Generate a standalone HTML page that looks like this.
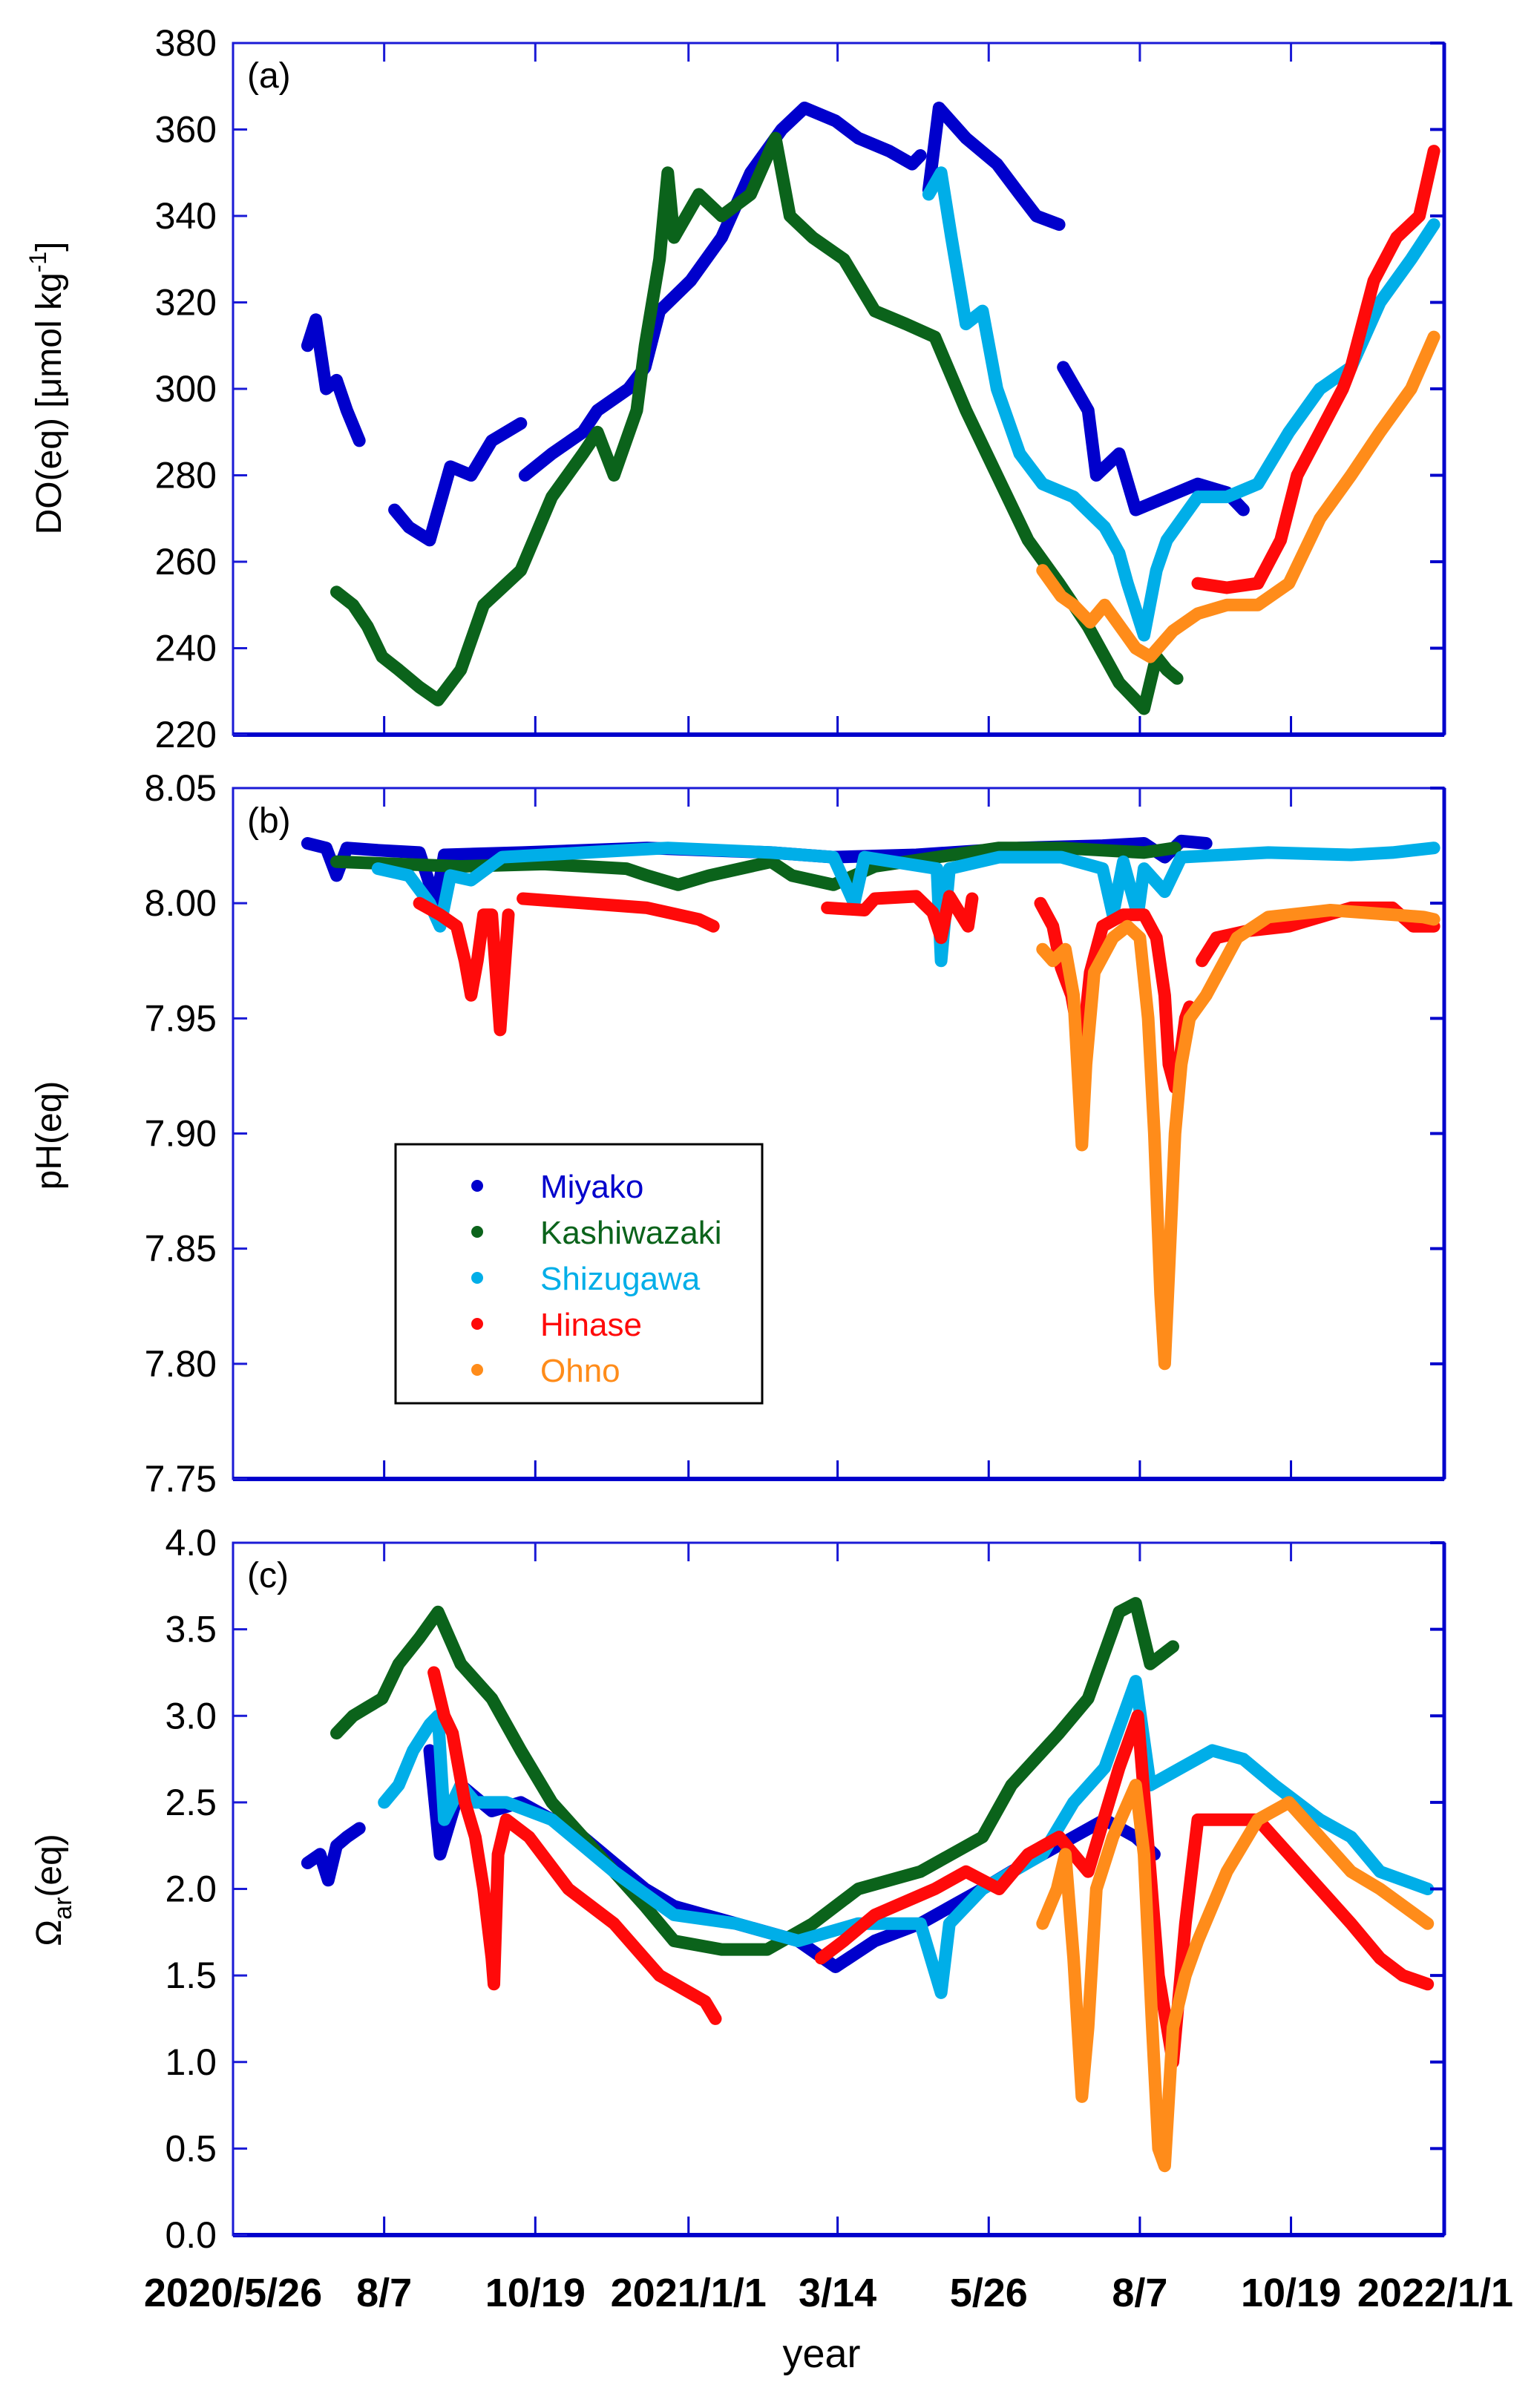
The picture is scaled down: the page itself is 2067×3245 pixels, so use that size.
<!DOCTYPE html>
<html><head><meta charset="utf-8"><title>DO, pH and Omega time series</title>
<style>
html,body{margin:0;padding:0;background:#fff;}
svg{display:block;}
text{font-family:"Liberation Sans Narrow","Liberation Sans",sans-serif;fill:#000;}
</style></head>
<body>
<svg id="chart" width="2067" height="3245" viewBox="0 0 2067 3245" xmlns="http://www.w3.org/2000/svg">
<g id="marks"></g>
<g id="axes"></g>
</svg>
<script>
// x = days since 2020/5/26
const xTickDays = [73,146,220,292,365,438,511];
const xTickLabels = ["2020/5/26","8/7","10/19","2021/1/1","3/14","5/26","8/7","10/19","2022/1/1"];
const xLabelDays = [0,73,146,220,292,365,438,511,585];
const seriesNames = ["Miyako","Kashiwazaki","Shizugawa","Hinase","Ohno"];
const seriesColors = ["#0000cc","#0b631b","#00aee8","#ff0a0a","#ff8c1a"];

const aTicks = [220,240,260,280,300,320,340,360,380];
const bTicks = [7.75,7.80,7.85,7.90,7.95,8.00,8.05];
const bTickLabels = ["7.75","7.80","7.85","7.90","7.95","8.00","8.05"];
const cTicks = [0,0.5,1,1.5,2,2.5,3,3.5,4];
const cTickLabels = ["0.0","0.5","1.0","1.5","2.0","2.5","3.0","3.5","4.0"];

// Panel (a) DO
const miyakoA_days = [36,40,45,50,55,61,null,78,85,95,105,115,125,139,null,141,154,169,176,191,199,206,221,236,250,265,276,291,302,317,328,332,null,336,341,354,369,380,388,399,null,401,413,417,428,436,451,466,480,488];
const miyakoA_vals = [310,316,300,302,295,288,null,272,268,265,282,280,288,292,null,280,285,290,295,300,305,318,325,335,350,360,365,362,358,355,352,354,null,346,365,358,352,345,340,338,null,305,295,280,285,272,275,278,276,272];
const kashA_days = [50,58,65,72,80,90,99,110,121,130,139,154,169,176,184,195,199,206,210,213,225,236,250,262,269,280,295,310,325,339,354,369,384,399,413,428,440,446,451,456];
const kashA_vals = [253,250,245,238,235,231,228,235,250,254,258,275,285,290,280,295,310,330,350,335,345,340,345,358,340,335,330,318,315,312,295,280,265,255,245,232,226,238,235,233];
const shizA_days = [336,342,347,354,362,369,380,391,406,421,428,432,440,446,451,466,480,495,510,525,540,554,569,580];
const shizA_vals = [345,350,335,315,318,300,285,278,275,268,262,255,243,258,265,275,275,278,290,300,305,320,330,338];
const hinaseA_days = [466,480,495,506,514,525,536,540,551,562,573,580];
const hinaseA_vals = [255,254,255,265,280,290,300,305,325,335,340,355];
const ohnoA_days = [391,400,406,414,421,430,436,443,454,466,480,495,510,525,540,554,569,580];
const ohnoA_vals = [258,252,250,246,250,244,240,238,244,248,250,250,255,270,280,290,300,312];

// Panel (b) pH
const miyakoB_days = [36,45,50,55,70,90,98,102,140,200,260,290,330,380,420,440,450,458,470];
const miyakoB_vals = [8.026,8.024,8.012,8.024,8.023,8.022,8.0,8.021,8.022,8.024,8.022,8.02,8.021,8.024,8.025,8.026,8.02,8.027,8.026];
const kashB_days = [50,80,110,150,190,200,215,230,260,270,290,310,340,370,400,420,440,455];
const kashB_vals = [8.018,8.017,8.016,8.017,8.015,8.012,8.008,8.012,8.018,8.012,8.008,8.016,8.02,8.024,8.024,8.023,8.022,8.024];
const shizB_days = [70,85,95,100,105,115,130,170,210,260,290,300,305,340,342,346,370,400,420,425,430,437,440,450,458,500,540,560,580];
const shizB_vals = [8.015,8.012,8.0,7.99,8.012,8.01,8.02,8.022,8.024,8.022,8.02,8.0,8.02,8.015,7.975,8.015,8.02,8.02,8.015,7.995,8.018,7.995,8.015,8.005,8.02,8.022,8.021,8.022,8.024];
const hinaseB_days = [90,100,108,112,115,118,121,125,127,129,131,133,null,140,170,200,225,232,null,287,305,310,330,338,342,346,355,357,null,390,396,400,405,410,414,420,430,440,446,450,452,455,457,460,462,null,468,475,490,510,540,560,570,580];
const hinaseB_vals = [8.0,7.995,7.99,7.975,7.96,7.975,7.995,7.995,7.97,7.945,7.97,7.995,null,8.002,8.0,7.998,7.993,7.99,null,7.998,7.997,8.002,8.003,7.996,7.985,8.003,7.99,8.002,null,8.0,7.99,7.972,7.96,7.935,7.97,7.99,7.995,7.995,7.985,7.96,7.93,7.92,7.93,7.95,7.955,null,7.975,7.985,7.988,7.99,7.998,7.998,7.99,7.99];
const ohnoB_days = [391,396,402,406,410,412,416,425,432,438,442,445,448,450,452,455,458,462,470,476,485,500,530,560,575,580];
const ohnoB_vals = [7.98,7.975,7.98,7.96,7.895,7.93,7.97,7.985,7.99,7.985,7.95,7.9,7.83,7.8,7.84,7.9,7.93,7.95,7.96,7.97,7.985,7.994,7.997,7.995,7.994,7.993];

// Panel (c) Omega_ar
const miyakoC_days = [36,42,46,50,55,61,null,95,100,110,125,139,154,169,184,199,213,228,243,258,273,291,310,332,347,362,376,391,406,421,436,445];
const miyakoC_vals = [2.15,2.2,2.05,2.25,2.3,2.35,null,2.8,2.2,2.6,2.45,2.5,2.4,2.3,2.15,2.0,1.9,1.85,1.8,1.75,1.7,1.55,1.7,1.8,1.9,2.0,2.1,2.2,2.3,2.4,2.3,2.2];
const kashC_days = [50,58,65,72,80,90,99,110,125,139,154,169,184,199,213,236,258,280,302,332,362,376,399,413,428,436,443,454];
const kashC_vals = [2.9,3.0,3.05,3.1,3.3,3.45,3.6,3.3,3.1,2.8,2.5,2.3,2.1,1.9,1.7,1.65,1.65,1.8,2.0,2.1,2.3,2.6,2.9,3.1,3.6,3.65,3.3,3.4];
const shizC_days = [73,80,87,95,99,102,110,117,132,154,184,213,243,273,302,332,342,346,362,391,406,421,436,443,458,473,488,503,525,540,554,577];
const shizC_vals = [2.5,2.6,2.8,2.95,3.0,2.4,2.6,2.5,2.5,2.4,2.1,1.85,1.8,1.7,1.8,1.8,1.4,1.8,2.0,2.2,2.5,2.7,3.2,2.6,2.7,2.8,2.75,2.6,2.4,2.3,2.1,2.0];
const hinaseC_days = [97,102,106,112,117,121,125,126,128,132,143,162,184,206,228,233,null,284,295,310,339,354,370,384,399,413,428,437,443,447,454,460,466,480,495,510,525,540,554,565,577];
const hinaseC_vals = [3.25,3.0,2.9,2.5,2.3,2.0,1.6,1.45,2.2,2.4,2.3,2.0,1.8,1.5,1.35,1.25,null,1.6,1.7,1.85,2.0,2.1,2.0,2.2,2.3,2.1,2.7,3.0,2.1,1.5,1.0,1.8,2.4,2.4,2.4,2.2,2.0,1.8,1.6,1.5,1.45];
const ohnoC_days = [391,398,402,406,410,413,417,425,436,440,444,447,450,454,460,466,480,495,510,525,540,554,577];
const ohnoC_vals = [1.8,2.0,2.2,1.6,0.8,1.2,2.0,2.3,2.6,2.2,1.2,0.5,0.4,1.2,1.5,1.7,2.1,2.4,2.5,2.3,2.1,2.0,1.8];

const NS = "http://www.w3.org/2000/svg";
const X0 = 314, X1 = 1946, DAYS = 585;
function xs(d){ return X0 + (X1 - X0) * d / DAYS; }
function mkY(top, bot, vmin, vmax){ return v => bot - (bot - top) * (v - vmin) / (vmax - vmin); }
const panels = [
  {key:"a", top:58, bot:990, ya:mkY(58,990,220,380), ticks:aTicks, labels:aTicks.map(String),
   data:[[miyakoA_days,miyakoA_vals],[kashA_days,kashA_vals],[shizA_days,shizA_vals],[hinaseA_days,hinaseA_vals],[ohnoA_days,ohnoA_vals]]},
  {key:"b", top:1062, bot:1993, ya:mkY(1062,1993,7.75,8.05), ticks:bTicks, labels:bTickLabels,
   data:[[miyakoB_days,miyakoB_vals],[kashB_days,kashB_vals],[shizB_days,shizB_vals],[hinaseB_days,hinaseB_vals],[ohnoB_days,ohnoB_vals]]},
  {key:"c", top:2079, bot:3012, ya:mkY(2079,3012,0,4), ticks:cTicks, labels:cTickLabels,
   data:[[miyakoC_days,miyakoC_vals],[kashC_days,kashC_vals],[shizC_days,shizC_vals],[hinaseC_days,hinaseC_vals],[ohnoC_days,ohnoC_vals]]}
];
const marks = document.getElementById("marks");
const axes = document.getElementById("axes");
function el(tag, attrs, parent){
  const e = document.createElementNS(NS, tag);
  for (const k in attrs) e.setAttribute(k, attrs[k]);
  parent.appendChild(e); return e;
}
panels.forEach(p => {
  p.data.forEach((s, i) => {
    const days = s[0], vals = s[1];
    let segs = [], cur = [];
    for (let j = 0; j < days.length; j++) {
      if (days[j] === null || vals[j] === null) { if (cur.length) segs.push(cur); cur = []; continue; }
      cur.push(xs(days[j]).toFixed(1) + "," + p.ya(vals[j]).toFixed(1));
    }
    if (cur.length) segs.push(cur);
    segs.forEach(seg => {
      const pl = el("polyline", {points: seg.join(" "), fill:"none", stroke:seriesColors[i], "stroke-width":17, "stroke-linejoin":"round", "stroke-linecap":"round"}, marks);
      
      
    });
  });
  const frame = el("rect", {x:X0, y:p.top, width:X1-X0, height:p.bot-p.top, fill:"none", stroke:"#1a1ad6", "stroke-width":3}, axes);
  
  
  el("line", {x1:X0, y1:p.bot, x2:X1, y2:p.bot, stroke:"#0000cc", "stroke-width":6}, axes);
  el("line", {x1:X1, y1:p.top, x2:X1, y2:p.bot, stroke:"#0000cc", "stroke-width":5}, axes);
  p.ticks.forEach((t, k) => {
    const y = p.ya(t);
    el("line", {x1:X0, y1:y, x2:X0+19, y2:y, stroke:"#1a1ad6", "stroke-width":3}, axes);
    el("line", {x1:X1-19, y1:y, x2:X1, y2:y, stroke:"#0000cc", "stroke-width":4}, axes);
    const tx = el("text", {x:X0-22, y:y+17, "text-anchor":"end", "font-size":50}, axes);
    tx.textContent = p.labels[k];
    
    
  });
  xTickDays.forEach(d => {
    el("line", {x1:xs(d), y1:p.top, x2:xs(d), y2:p.top+25, stroke:"#1a1ad6", "stroke-width":3}, axes);
    el("line", {x1:xs(d), y1:p.bot-25, x2:xs(d), y2:p.bot, stroke:"#0000cc", "stroke-width":3}, axes);
  });
  const pl = el("text", {x:333, y:p.top+60, "font-size":48, "font-family":"Liberation Sans, sans-serif"}, axes);
  pl.textContent = "(" + p.key + ")";
  
  
});
xLabelDays.forEach((d, k) => {
  const tx = el("text", {x:xs(d) - (k===8?12:0), y:3108, "text-anchor":"middle", "font-size":54, "font-weight":"bold"}, axes);
  tx.textContent = xTickLabels[k];
  
  
});
const xt = el("text", {x:1107, y:3190, "text-anchor":"middle", "font-size":54, "font-family":"Liberation Sans, sans-serif"}, axes);
xt.textContent = "year";



function yTitle(cy, name, build){
  const t = el("text", {x:0, y:0, "text-anchor":"middle", "font-size":48, "font-family":"Liberation Sans, sans-serif", transform:"translate(82," + cy + ") rotate(-90)"}, axes);
  build(t);
  
  
}
yTitle(523, 'y-axis-title-do', t => {
  t.appendChild(document.createTextNode("DO(eq) [μmol kg"));
  const s = el("tspan", {dy:-20, "font-size":32}, t); s.textContent = "-1";
  const s2 = el("tspan", {dy:20}, t); s2.textContent = "]";
});
yTitle(1530, 'y-axis-title-ph', t => { t.textContent = "pH(eq)"; });
yTitle(2547, 'y-axis-title-omega', t => {
  t.appendChild(document.createTextNode("Ω"));
  const s = el("tspan", {dy:14, "font-size":34}, t); s.textContent = "ar";
  const s2 = el("tspan", {dy:-14}, t); s2.textContent = "(eq)";
});

// Legend
const lg = el("g", {}, axes);


el("rect", {x:533, y:1542, width:494, height:349, fill:"#fff", stroke:"#000", "stroke-width":3}, lg);
seriesNames.forEach((n, i) => {
  const y = 1598 + i * 62;
  const c = el("circle", {cx:643, cy:y, r:8, fill:seriesColors[i]}, lg);
  
  
  const t = el("text", {x:728, y:y+16, "font-size":44, fill:seriesColors[i], "font-family":"Liberation Sans, sans-serif"}, lg);
  t.style.fill = seriesColors[i];
  t.textContent = n;
  
  
});
</script>
</body></html>
